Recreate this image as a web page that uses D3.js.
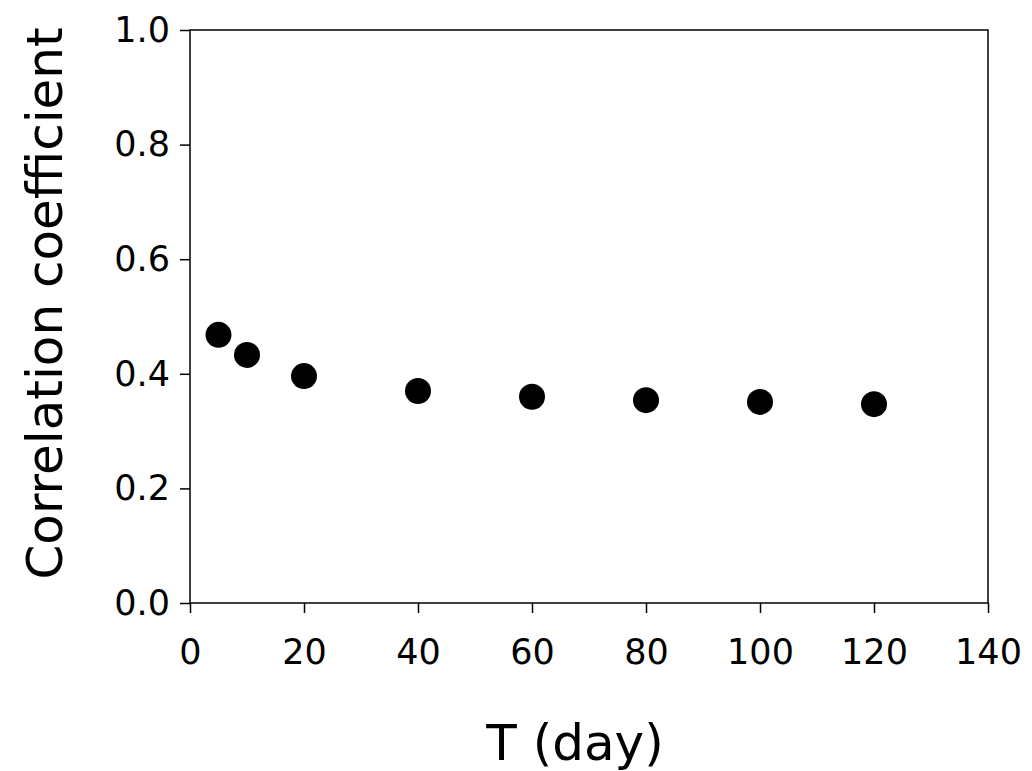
<!DOCTYPE html>
<html><head><meta charset="utf-8">
<script src="https://cdn.jsdelivr.net/npm/d3@7"></script>
<style>body{margin:0;background:#fff}</style>
</head><body><div id="content"></div>
<script>
var width = 1032, height = 771;
var margin = {left: 190, top: 30, right: 44, bottom: 168};
var font = "'DejaVu Sans', sans-serif";

var days = [5, 10, 20, 40, 60, 80, 100, 120];
var corr = [0.468, 0.433, 0.396, 0.370, 0.360, 0.354, 0.351, 0.347];
var xTicks = [0, 20, 40, 60, 80, 100, 120, 140];
var yTicks = [0, 0.2, 0.4, 0.6, 0.8, 1.0];

var x = d3.scaleLinear().domain([0, 140]).range([margin.left, width - margin.right]);
var y = d3.scaleLinear().domain([0, 1]).range([height - margin.bottom, margin.top]);

var svg = d3.select("#content").append("svg")
    .attr("width", width).attr("height", height)
    .style("font-family", font);

svg.append("rect")
    .attr("x", x(0)).attr("y", y(1))
    .attr("width", x(140) - x(0)).attr("height", y(0) - y(1))
    .attr("fill", "none").attr("stroke", "#000").attr("stroke-width", 1.5);

var xAxis = svg.append("g").attr("transform", "translate(0," + y(0) + ")")
    .call(d3.axisBottom(x).tickValues(xTicks).tickSize(10).tickPadding(26));
var yAxis = svg.append("g").attr("transform", "translate(" + x(0) + ",0)")
    .call(d3.axisLeft(y).tickValues(yTicks).tickSize(10).tickPadding(10).tickFormat(d3.format(".1f")));

[xAxis, yAxis].forEach(function(a) {
    a.attr("font-size", null).attr("font-family", null);
    a.select(".domain").remove();
    a.selectAll("line").attr("stroke", "#000").attr("stroke-width", 1.5);
    a.selectAll("text").attr("fill", "#000").style("font-size", "35px").style("font-family", font);
});

svg.selectAll("circle").data(days).enter().append("circle")
    .attr("cx", function(d) { return x(d); })
    .attr("cy", function(d, i) { return y(corr[i]); })
    .attr("r", 13).attr("fill", "#000");

svg.append("text").attr("x", (x(0) + x(140)) / 2 - 14).attr("y", 760)
    .attr("text-anchor", "middle").style("font-size", "50px").text("T (day)");
svg.append("text").attr("transform", "translate(62," + (y(0.5) - 13) + ") rotate(-90)")
    .attr("text-anchor", "middle").style("font-size", "50px").text("Correlation coefficient");
</script></body></html>
